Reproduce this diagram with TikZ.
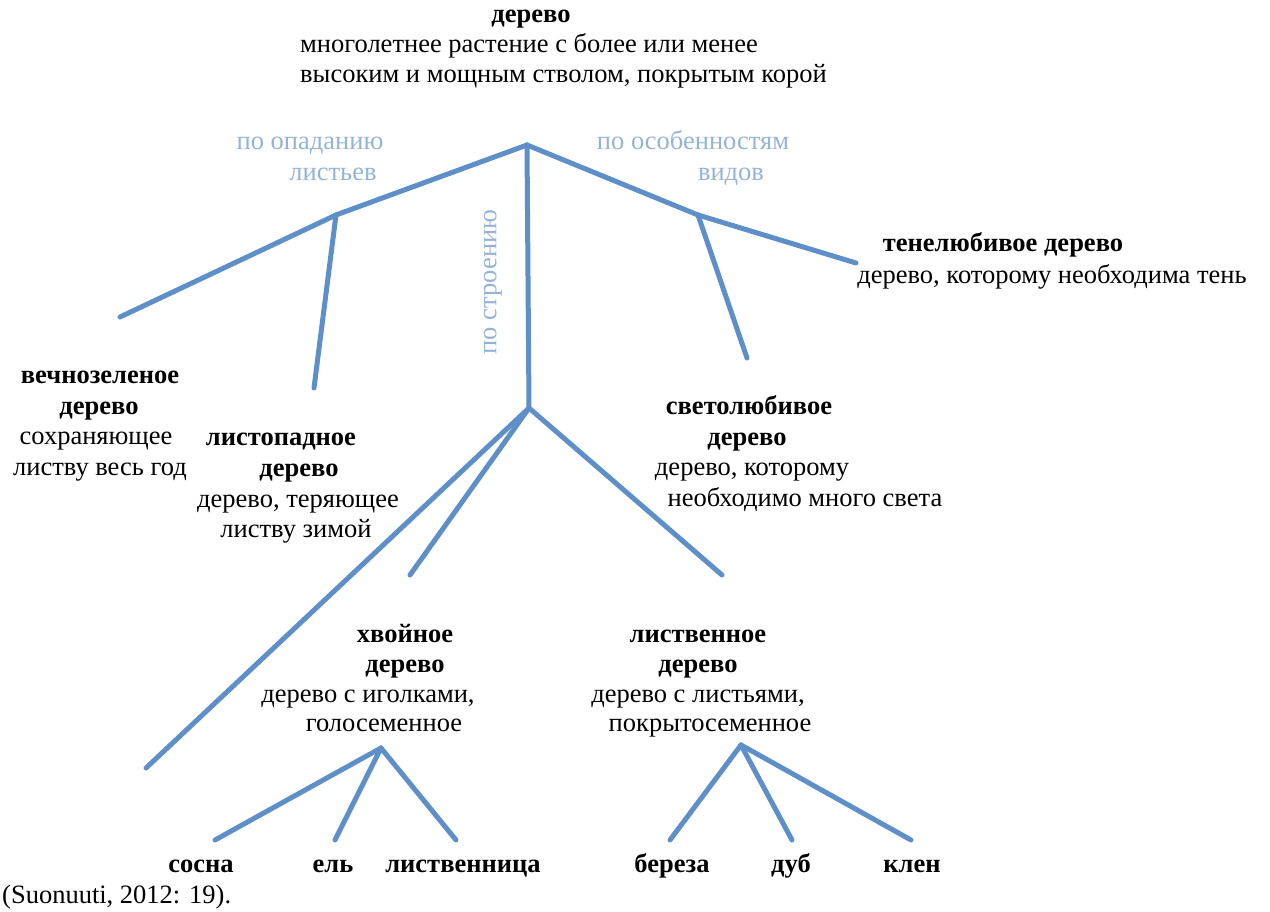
\documentclass[tikz,border=0pt]{standalone}
\usepackage{fontspec}
\setmainfont{Liberation Serif}
\begin{document}
\begin{tikzpicture}[x=1pt,y=-1pt,
  every node/.style={inner sep=0pt,anchor=base,font=\fontsize{26.5}{30}\selectfont},
  branch/.style={line width=5pt,draw=LineBlue,line cap=round},
  crit/.style={text=CritBlue},
  term/.style={font=\fontsize{26.5}{30}\selectfont\bfseries}]

%Defining blue colors
\definecolor{LineBlue}{RGB}{94,143,200}
\definecolor{CritBlue}{RGB}{149,179,215}

\useasboundingbox (0,0) rectangle (1270,912);

%Junctions and free ends
\coordinate (root) at (527,145);
\coordinate (leafj) at (336,215);
\coordinate (kindj) at (698,215);
\coordinate (structj) at (529,408);
\coordinate (conj) at (381,748);
\coordinate (decj) at (741,745);

\coordinate (evergreenEnd) at (120,317);
\coordinate (deciduousEnd) at (314,388);
\coordinate (shadeEnd) at (856,263);
\coordinate (lightEnd) at (747,358);
\coordinate (longEnd) at (146,768);
\coordinate (coniferEnd) at (410,575);
\coordinate (broadleafEnd) at (722,575);
\coordinate (pineEnd) at (215,840);
\coordinate (spruceEnd) at (335,840);
\coordinate (larchEnd) at (456,840);
\coordinate (birchEnd) at (670,840);
\coordinate (oakEnd) at (792,840);
\coordinate (mapleEnd) at (911,840);

%Branches
\draw[branch] (root) -- (leafj);
\draw[branch] (root) -- (structj);
\draw[branch] (root) -- (kindj);
\draw[branch] (leafj) -- (evergreenEnd);
\draw[branch] (leafj) -- (deciduousEnd);
\draw[branch] (kindj) -- (shadeEnd);
\draw[branch] (kindj) -- (lightEnd);
\draw[branch] (structj) -- (longEnd);
\draw[branch] (structj) -- (coniferEnd);
\draw[branch] (structj) -- (broadleafEnd);
\draw[branch] (conj) -- (pineEnd);
\draw[branch] (conj) -- (spruceEnd);
\draw[branch] (conj) -- (larchEnd);
\draw[branch] (decj) -- (birchEnd);
\draw[branch] (decj) -- (oakEnd);
\draw[branch] (decj) -- (mapleEnd);

%Root term
\node[term] (rootT) at (531,23) {дерево};
\node[anchor=base west] (rootD1) at (300,53) {многолетнее растение с более или менее};
\node[anchor=base west] (rootD2) at (300,83) {высоким и мощным стволом, покрытым корой};

%Criteria
\node[crit] (critLeaf1) at (310,150) {по опаданию};
\node[crit] (critLeaf2) at (333,181) {листьев};
\node[crit] (critKind1) at (693,150) {по особенностям};
\node[crit] (critKind2) at (731,181) {видов};
\node[crit,rotate=90,anchor=center] (critStruct) at (493,282) {по строению};

%Shade tree
\node[term] (shadeT) at (1003,252) {тенелюбивое дерево};
\node[] (shadeD) at (1052,284) {дерево, которому необходима тень};

%Evergreen
\node[term] (everT1) at (100,383) {вечнозеленое};
\node[term] (everT2) at (99,414) {дерево};
\node[] (everD1) at (96,444) {сохраняющее};
\node[] (everD2) at (100,475) {листву весь год};

%Deciduous
\node[term] (decidT1) at (281,445) {листопадное};
\node[term] (decidT2) at (299,476) {дерево};
\node[] (decidD1) at (298,507) {дерево, теряющее};
\node[] (decidD2) at (296,537) {листву зимой};

%Light tree
\node[term] (lightT1) at (749,414) {светолюбивое};
\node[term] (lightT2) at (747,445) {дерево};
\node[] (lightD1) at (752,475) {дерево, которому};
\node[] (lightD2) at (805,506) {необходимо много света};

%Conifer
\node[term] (conT1) at (405,642) {хвойное};
\node[term] (conT2) at (405,672) {дерево};
\node[] (conD1) at (368,702) {дерево с иголками,};
\node[] (conD2) at (384,731) {голосеменное};

%Broadleaf
\node[term] (decT1) at (698,642) {лиственное};
\node[term] (decT2) at (698,672) {дерево};
\node[] (decD1) at (698,702) {дерево с листьями,};
\node[] (decD2) at (710,731) {покрытосеменное};

%Species
\node[term] (pine) at (201,872) {сосна};
\node[term] (spruce) at (333,872) {ель};
\node[term] (larch) at (463,872) {лиственница};
\node[term] (birch) at (672,872) {береза};
\node[term] (oak) at (791,872) {дуб};
\node[term] (maple) at (912,872) {клен};

%Source
\node[anchor=base west] (source) at (2,903) {(Suonuuti, 2012: 19).};

\end{tikzpicture}
\end{document}
